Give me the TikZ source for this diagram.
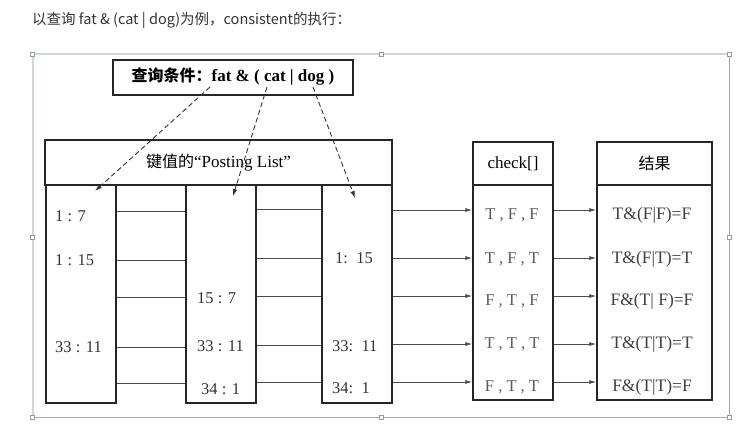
\documentclass[tikz,border=0pt]{standalone}
\usepackage{fontspec}
\setmainfont{Liberation Serif}
\newfontfamily\cjk{Noto Sans CJK SC}
\usetikzlibrary{arrows.meta}
\begin{document}
\begin{tikzpicture}[x=1pt,y=-1pt,
  box/.style={draw=black!85,line width=1.5pt,inner sep=0pt,fill=white},
  lab/.style={font=\fontsize{16.5}{16.5}\selectfont,text=black!80,inner sep=0pt,anchor=west},
  mid/.style={font=\fontsize{16.5}{16.5}\selectfont,text=black!75,inner sep=0pt},
  link/.style={draw=black!70,line width=0.8pt},
  arr/.style={link,-{Latex[length=7pt,width=4pt]}},
  darr/.style={draw=black!80,line width=0.9pt,dash pattern=on 5pt off 3pt,-{Latex[length=7pt,width=4.5pt]}},
  frameg/.style={draw=green!15!black!18,line width=1.2pt},
  framek/.style={draw=black!35,line width=0.8pt},
  handle/.style={draw=black!40,fill=white,line width=0.6pt,minimum size=4pt,inner sep=0pt}]
\useasboundingbox (0,0) rectangle (739,426);
% page text
\node[anchor=west,inner sep=0pt,text=black!80,font=\cjk\fontsize{14.5}{15}\selectfont] (title) at (32,20) {以查询 fat \& (cat | dog)为例，consistent的执行：};
% image frame
\draw[frameg] (33,417) -- (33,54) -- (729,54);
\draw[framek] (729,54) -- (729,417) -- (33,417);
\node[handle] (h1) at (32,54) {};
\node[handle] (h2) at (381,54) {};
\node[handle] (h3) at (729,54) {};
\node[handle] (h4) at (32,237) {};
\node[handle] (h5) at (729,237) {};
\node[handle] (h6) at (32,417) {};
\node[handle] (h7) at (381,417) {};
\node[handle] (h8) at (729,417) {};
% posting list
\node[box,minimum width=347pt,minimum height=45pt,font=\fontsize{17}{17}\selectfont] (hdr) at (218.5,162.5) {{\cjk\fontsize{16}{16}\selectfont 键值的}“Posting List”};
\node[box,minimum width=70pt,minimum height=218pt] (c1) at (81,294) {};
\node[box,minimum width=70pt,minimum height=218pt] (c2) at (221,294) {};
\node[box,minimum width=70pt,minimum height=218pt] (c3) at (357,294) {};
% check and result
\node[box,minimum width=80pt,minimum height=43pt,font=\fontsize{17}{17}\selectfont] (chkh) at (513,163.5) {check[]};
\node[box,minimum width=80pt,minimum height=215pt] (chk) at (513,292.5) {};
\node[box,minimum width=115pt,minimum height=43pt,font=\cjk\fontsize{16}{16}\selectfont] (resh) at (654.5,163.5) {结果};
\node[box,minimum width=115pt,minimum height=215pt] (res) at (654.5,292.5) {};
% query
\node[box,line width=2pt,minimum width=240pt,minimum height=35pt,font=\fontsize{17}{17}\selectfont\bfseries] (q) at (233,77) {{\cjk\bfseries\fontsize{16}{16}\selectfont 查询条件：}fat \& ( cat | dog )};
% labels column 1
\node[lab] (a1) at (55,216) {1 : 7};
\node[lab] (a2) at (55,260) {1 : 15};
\node[lab] (a3) at (55,347) {33 : 11};
% column 2
\node[lab] (b1) at (197,298) {15 : 7};
\node[lab] (b2) at (197,346) {33 : 11};
\node[lab] (b3) at (201,389) {34 : 1};
% column 3
\node[lab] (d1) at (335,258) {1:\ \ 15};
\node[lab] (d2) at (332,346) {33:\ \ 11};
\node[lab] (d3) at (332,388) {34:\ \ 1};
% check texts
\node[mid,text=black!65] (k1) at (512,215) {T , F , F};
\node[mid,text=black!65] (k2) at (512,259) {T , F , T};
\node[mid,text=black!65] (k3) at (512,301) {F , T , F};
\node[mid,text=black!65] (k4) at (512,344) {T , T , T};
\node[mid,text=black!65] (k5) at (512,387) {F , T , T};
% result texts
\node[mid,font=\fontsize{17.5}{17.5}\selectfont] (r1) at (652,215) {T\&(F|F)=F};
\node[mid,font=\fontsize{17.5}{17.5}\selectfont] (r2) at (652,259) {T\&(F|T)=T};
\node[mid,font=\fontsize{17.5}{17.5}\selectfont] (r3) at (652,301) {F\&(T| F)=F};
\node[mid,font=\fontsize{17.5}{17.5}\selectfont] (r4) at (652,344) {T\&(T|T)=T};
\node[mid,font=\fontsize{17.5}{17.5}\selectfont] (r5) at (652,387) {F\&(T|T)=F};
% connectors
\foreach \y in {211,260,297,347,383} {
  \draw[link] (c1.east |- 0,\y) -- (c2.west |- 0,\y);
}
\foreach \y in {209,258,296,345,382} {
  \draw[link] (c2.east |- 0,\y) -- (c3.west |- 0,\y);
}
\foreach \y in {210,258,296,344,382} {
  \draw[arr] (c3.east |- 0,\y) -- (chk.west |- 0,\y);
  \draw[arr] (chk.east |- 0,\y) -- (res.west |- 0,\y);
}
% dashed query arrows
\coordinate (qa) at (210,87);
\coordinate (qb) at (267,87);
\coordinate (qc) at (313,87);
\coordinate (ta) at (95,191);
\coordinate (tb) at (233,196);
\coordinate (tc) at (355,198);
\draw[darr] (qa) -- (ta);
\draw[darr] (qb) -- (tb);
\draw[darr] (qc) -- (tc);
\end{tikzpicture}
\end{document}
